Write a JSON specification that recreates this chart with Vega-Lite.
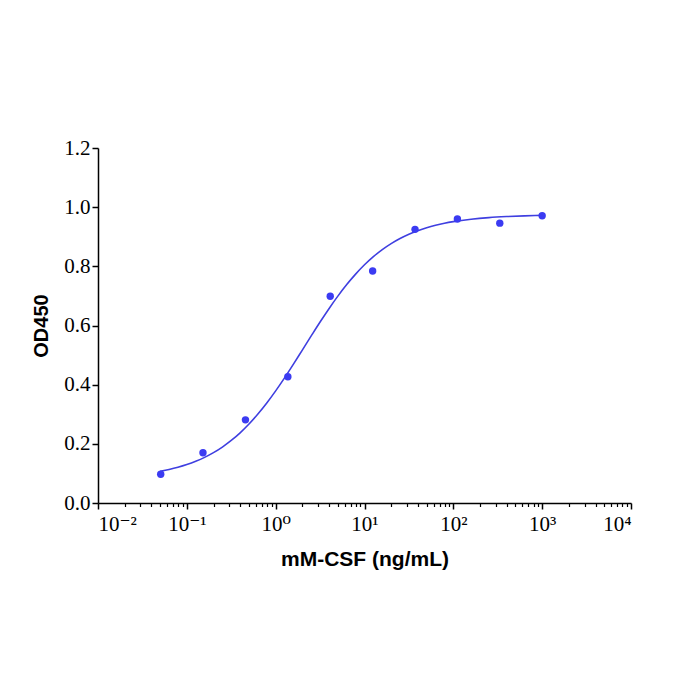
{
  "$schema": "https://vega.github.io/schema/vega-lite/v6.json",
  "width": 533,
  "height": 355,
  "autosize": {"type": "none"},
  "padding": {"left": 98, "top": 148, "right": 69, "bottom": 197},
  "background": "white",
  "config": {
    "view": {"stroke": null},
    "axis": {"grid": false, "domainColor": "black", "tickColor": "black", "labelColor": "black", "titleColor": "black"}
  },
  "datasets": {
    "measured": [
      {"conc": 0.0508, "od": 0.097},
      {"conc": 0.152, "od": 0.170},
      {"conc": 0.457, "od": 0.281},
      {"conc": 1.372, "od": 0.427},
      {"conc": 4.115, "od": 0.699},
      {"conc": 12.35, "od": 0.784},
      {"conc": 37.04, "od": 0.925},
      {"conc": 111.1, "od": 0.960},
      {"conc": 333.3, "od": 0.946},
      {"conc": 1000, "od": 0.971}
    ],
    "fit": [
      {"conc": 0.0501, "od": 0.1069},
      {"conc": 0.0631, "od": 0.1131},
      {"conc": 0.0794, "od": 0.1206},
      {"conc": 0.1, "od": 0.1298},
      {"conc": 0.1259, "od": 0.1409},
      {"conc": 0.1585, "od": 0.1542},
      {"conc": 0.1995, "od": 0.1702},
      {"conc": 0.2512, "od": 0.1891},
      {"conc": 0.3162, "od": 0.2113},
      {"conc": 0.3981, "od": 0.2372},
      {"conc": 0.5012, "od": 0.2668},
      {"conc": 0.631, "od": 0.3005},
      {"conc": 0.7943, "od": 0.3379},
      {"conc": 1, "od": 0.3789},
      {"conc": 1.259, "od": 0.4230},
      {"conc": 1.585, "od": 0.4693},
      {"conc": 1.995, "od": 0.5170},
      {"conc": 2.512, "od": 0.5647},
      {"conc": 3.162, "od": 0.6117},
      {"conc": 3.981, "od": 0.6568},
      {"conc": 5.012, "od": 0.6993},
      {"conc": 6.31, "od": 0.7384},
      {"conc": 7.943, "od": 0.7737},
      {"conc": 10, "od": 0.8052},
      {"conc": 12.59, "od": 0.8327},
      {"conc": 15.85, "od": 0.8565},
      {"conc": 19.95, "od": 0.8768},
      {"conc": 25.12, "od": 0.8940},
      {"conc": 31.62, "od": 0.9085},
      {"conc": 39.81, "od": 0.9205},
      {"conc": 50.12, "od": 0.9305},
      {"conc": 63.1, "od": 0.9387},
      {"conc": 79.43, "od": 0.9455},
      {"conc": 100, "od": 0.9510},
      {"conc": 158.5, "od": 0.9592},
      {"conc": 251.2, "od": 0.9647},
      {"conc": 398.1, "od": 0.9682},
      {"conc": 631, "od": 0.9706},
      {"conc": 1000, "od": 0.9721}
    ]
  },
  "layer": [
    {
      "data": {"name": "fit"},
      "mark": {"type": "line", "color": "#3f3fe0", "strokeWidth": 1.6, "interpolate": "monotone"},
      "encoding": {
        "x": {
          "field": "conc", "type": "quantitative",
          "scale": {"type": "log", "domain": [0.01, 10000], "nice": false},
          "axis": {
            "orient": "bottom",
            "values": [0.02,0.03,0.04,0.05,0.06,0.07,0.08,0.09,0.2,0.3,0.4,0.5,0.6,0.7,0.8,0.9,2,3,4,5,6,7,8,9,20,30,40,50,60,70,80,90,200,300,400,500,600,700,800,900,2000,3000,4000,5000,6000,7000,8000,9000],
            "labels": false, "domain": false, "tickSize": 3.5, "tickWidth": 1.2, "title": null
          }
        },
        "y": {
          "field": "od", "type": "quantitative",
          "scale": {"domain": [0, 1.2], "nice": false},
          "axis": {
            "values": [0, 0.2, 0.4, 0.6, 0.8, 1.0, 1.2],
            "format": ".1f",
            "labelFont": "Times New Roman, Liberation Serif, DejaVu Serif, serif", "labelFontSize": 21, "labelPadding": 2,
            "tickSize": 6, "tickWidth": 1.5, "domainWidth": 1.5,
            "title": "OD450", "titleFont": "Arial, Liberation Sans, sans-serif", "titleFontSize": 20, "titleFontWeight": "bold", "titlePadding": 12
          }
        }
      }
    },
    {
      "data": {"name": "measured"},
      "mark": {"type": "circle", "color": "#3b3bf2", "size": 55, "opacity": 1},
      "encoding": {
        "x": {
          "field": "conc", "type": "quantitative",
          "axis": {
            "orient": "bottom",
            "values": [0.01, 0.1, 1, 10, 100, 1000, 10000],
            "labelExpr": "datum.value < 0.05 ? '10⁻²' : datum.value < 0.5 ? '10⁻¹' : datum.value < 5 ? '10⁰' : datum.value < 50 ? '10¹' : datum.value < 500 ? '10²' : datum.value < 5000 ? '10³' : '10⁴'",
            "labelFont": "Times New Roman, Liberation Serif, DejaVu Serif, serif", "labelFontSize": 21, "labelPadding": 4,
            "tickSize": 6, "tickWidth": 1.5, "domainWidth": 1.5,
            "title": "mM-CSF (ng/mL)", "titleFont": "Arial, Liberation Sans, sans-serif", "titleFontSize": 21, "titleFontWeight": "bold", "titlePadding": 14
          }
        },
        "y": {"field": "od", "type": "quantitative"}
      }
    }
  ],
  "resolve": {"axis": {"x": "independent"}}
}
